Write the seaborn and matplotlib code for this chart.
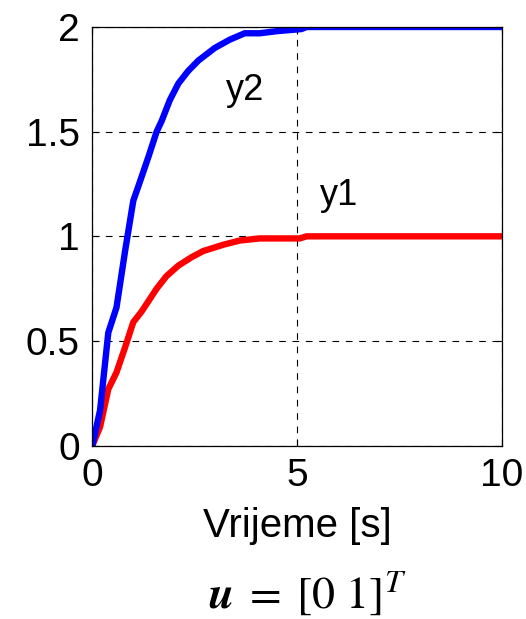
import numpy as np
import pandas as pd
import matplotlib.pyplot as plt
import seaborn as sns

# step responses
t_y2 = [0, 0.19, 0.39, 0.59, 0.80, 1.00, 1.16, 1.37, 1.57, 1.69, 1.89, 2.10, 2.34,
        2.59, 2.99, 3.36, 3.72, 4.09, 4.50, 5.10, 5.23, 10.0]
y2 = [0, 0.17, 0.54, 0.66, 0.93, 1.17, 1.26, 1.38, 1.50, 1.55, 1.65, 1.73, 1.79,
      1.84, 1.90, 1.94, 1.97, 1.97, 1.98, 1.99, 2.0, 2.0]
t_y1 = [0, 0.19, 0.39, 0.59, 0.80, 1.00, 1.20, 1.57, 1.81, 2.10, 2.42, 2.71, 3.20,
        3.60, 4.09, 5.06, 5.23, 10.0]
y1 = [0, 0.09, 0.27, 0.35, 0.47, 0.59, 0.64, 0.75, 0.81, 0.86, 0.90, 0.93, 0.96,
      0.98, 0.99, 0.99, 1.0, 1.0]

xticks = [0, 5, 10]
yticks = [0, 0.5, 1, 1.5, 2]

sns.set_style("ticks")
plt.rcParams["font.family"] = ["Liberation Sans", "DejaVu Sans"]
plt.rcParams["mathtext.fontset"] = "stix"
plt.rcParams["text.color"] = "black"
plt.rcParams["axes.labelcolor"] = "black"

fig = plt.figure(figsize=(5.26, 6.19), dpi=100)
ax = fig.add_axes([0.1755, 0.28, 0.779, 0.6764])

df1 = pd.DataFrame({"t": t_y1, "y": y1})
df2 = pd.DataFrame({"t": t_y2, "y": y2})
sns.lineplot(data=df1, x="t", y="y", ax=ax, color="#ff0000", lw=4.6, sort=False)
sns.lineplot(data=df2, x="t", y="y", ax=ax, color="#0000ff", lw=4.6, sort=False)

ax.set_xlim(0, 10)
ax.set_ylim(0, 2)
ax.set_xticks(xticks)
ax.set_xticklabels([str(v) for v in xticks])
ax.set_yticks(yticks)
ax.set_yticklabels(["0", "0.5", "1", "1.5", "2"])
ax.grid(True, color="black", linestyle=(0, (6, 6)), linewidth=0.8)
ax.tick_params(direction="in", length=5, width=0.8, labelsize=28, pad=9,
               top=True, right=True, colors="black")
for s in ax.spines.values():
    s.set_linewidth(0.9)
    s.set_color("black")

ax.set_xlabel("Vrijeme [s]", fontsize=29, labelpad=9, color="black")
ax.set_ylabel("")

ax.text(3.25, 1.65, "y2", fontsize=26, ha="left", va="baseline", color="black")
ax.text(5.55, 1.15, "y1", fontsize=26, ha="left", va="baseline", color="black")

fig.text(0.584, 0.018, r"$\mathbfit{u}\;=\;[0\ 1]^T$", fontsize=33, ha="center",
         va="baseline", color="black")

fig.savefig("out.png", dpi=100)
